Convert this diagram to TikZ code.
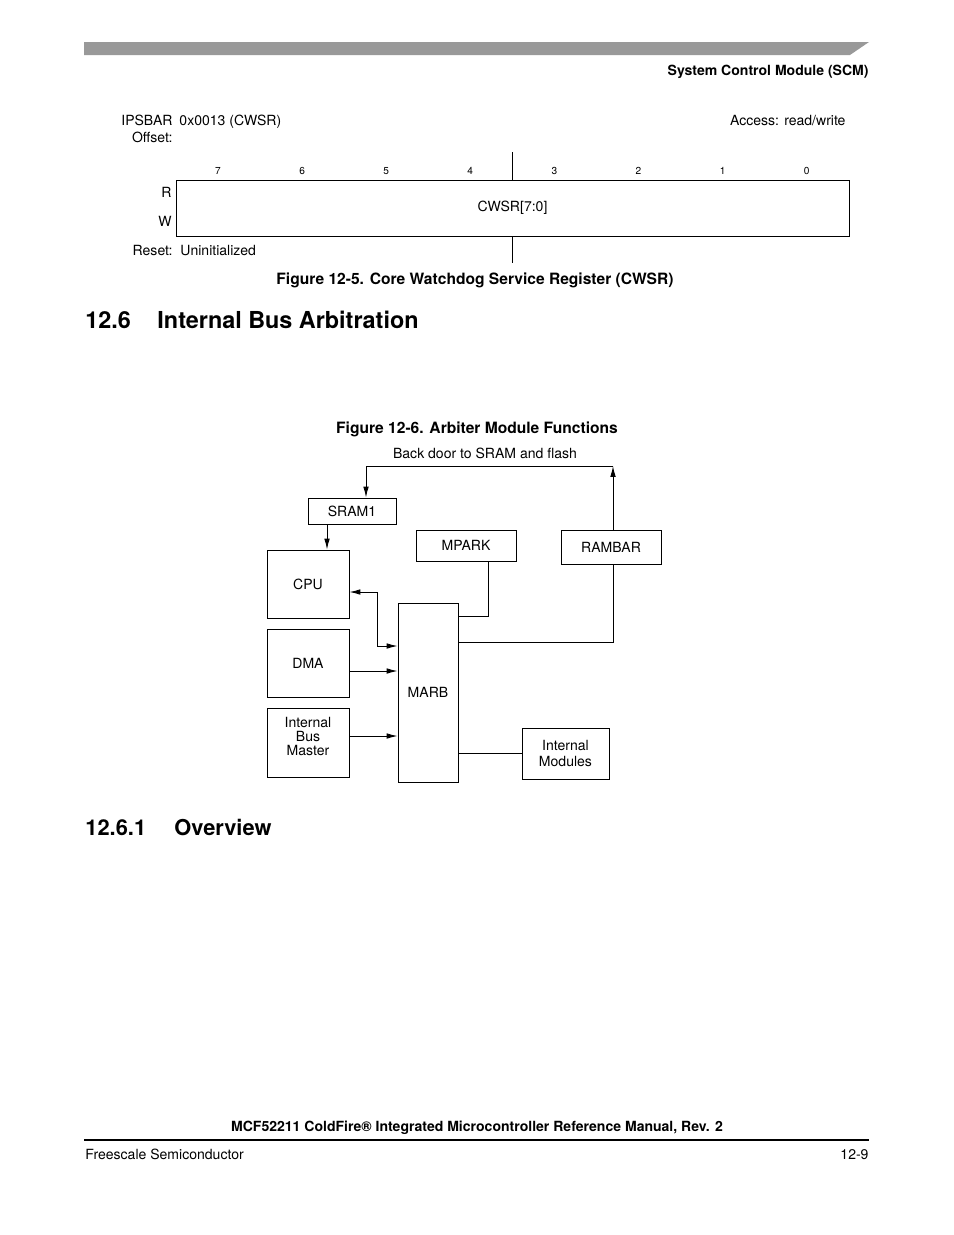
\documentclass[tikz,border=0pt]{standalone}
\usepackage{fontspec}
\setmainfont{TeX Gyre Heros}
\usetikzlibrary{arrows.meta}
\newcommand{\pxu}{0.6415pt}
\definecolor{bargray}{gray}{0.6}
\tikzset{
	box/.style={draw, line width=0.6pt, inner sep=0pt, align=center, font=\fontsize{9}{9}\selectfont},
	txt/.style={inner sep=0pt, font=\fontsize{9}{10.5}\selectfont},
	bold/.style={inner sep=0pt, font=\fontsize{10}{12}\selectfont\bfseries},
	head/.style={inner sep=0pt, font=\fontsize{15}{18}\selectfont\bfseries},
	subhead/.style={inner sep=0pt, font=\fontsize{14}{17}\selectfont\bfseries},
	bitnum/.style={inner sep=0pt, font=\fontsize{6.5}{8}\selectfont},
}
\begin{document}
\begin{tikzpicture}[x=\pxu, y=-\pxu, line width=0.6pt, >={Latex[length=7pt,width=3.6pt]}]
	\useasboundingbox (0,0) rectangle (954,1235);
	% page header
	\fill[bargray] (84,42) -- (869,42) -- (850,55) -- (84,55) -- cycle;
	\node[txt, anchor=base east, font=\fontsize{9}{10.5}\selectfont\bfseries] (chapter) at (869,75.5) {System Control Module (SCM)};
	
	% register
	\node[txt, anchor=base east] (ipsbar) at (173,125) {IPSBAR};
	\node[txt, anchor=base east] (offset) at (173,142) {Offset:};
	\node[txt, anchor=base west] (addr) at (179,125) {0x0013 (CWSR)};
	\node[txt, anchor=base east] (access) at (846,125) {Access: read/write};
	\node[box, minimum width=673*\pxu, minimum height=56*\pxu] (cwsr) at (512.5,208) {CWSR[7:0]};
	\foreach \b in {0,...,7}
		\node[bitnum, anchor=base] (bit\b) at ({218+84.1*(7-\b)},174) {\b};
	\draw (cwsr.north) -- ++(0,-28);
	\draw (cwsr.south) -- ++(0,27);
	\node[txt, anchor=base east] (rlbl) at (172,197) {R};
	\node[txt, anchor=base east] (wlbl) at (172,226) {W};
	\node[txt, anchor=base east] (resetlbl) at (173,255) {Reset:};
	\node[txt, anchor=base west] (resetval) at (180,255) {Uninitialized};
	\node[bold, anchor=base] (fig5) at (475,284) {Figure 12-5. Core Watchdog Service Register (CWSR)};
	
	\node[head, anchor=base west] (secnum) at (85,328.5) {12.6};
	\node[head, anchor=base west] (sectitle) at (157,328.5) {Internal Bus Arbitration};
	
	% arbiter
	\node[bold, anchor=base] (fig6) at (477,433) {Figure 12-6. Arbiter Module Functions};
	\node[txt, anchor=base] (backdoor) at (485,458) {Back door to SRAM and flash};
	\node[box, minimum width=88*\pxu, minimum height=26*\pxu] (sram1) at (352,511) {SRAM1};
	\node[box, minimum width=100*\pxu, minimum height=31*\pxu] (mpark) at (466,545.5) {MPARK};
	\node[box, minimum width=100*\pxu, minimum height=34*\pxu] (rambar) at (611,547) {RAMBAR};
	\node[box, minimum width=82*\pxu, minimum height=68*\pxu] (cpu) at (308,584) {CPU};
	\node[box, minimum width=82*\pxu, minimum height=68*\pxu] (dma) at (308,663) {DMA};
	\node[box, minimum width=82*\pxu, minimum height=69*\pxu, text depth=7.8pt] (ibm) at (308,742.5) {Internal\\Bus\\Master};
	\node[box, minimum width=60*\pxu, minimum height=179*\pxu] (marb) at (428,692.5) {MARB};
	\node[box, minimum width=87*\pxu, minimum height=51*\pxu, font=\fontsize{9}{10.3}\selectfont] (intmod) at (565.5,753.5) {Internal\\Modules};
	
	\coordinate (bd) at (613,466);
	\draw[->] (rambar.north -| bd) -- (bd);
	\draw[->] (bd) -| ([xshift=14*\pxu]sram1.north);
	\coordinate (cpuin) at ([xshift=19*\pxu]cpu.north);
	\draw[->] (cpuin |- sram1.south) -- (cpuin);
	\coordinate (cpujog) at (377,646);
	\draw[<->] ([yshift=-8*\pxu]cpu.east) -| (cpujog) -- (cpujog -| marb.west);
	\coordinate (dmaout) at ([yshift=-8*\pxu]dma.east);
	\draw[->] (dmaout) -- (dmaout -| marb.west);
	\coordinate (ibmout) at ([yshift=6.5*\pxu]ibm.east);
	\draw[->] (ibmout) -- (ibmout -| marb.west);
	\coordinate (mparkout) at ([xshift=22*\pxu]mpark.south);
	\draw (mparkout) |- ([yshift=76.5*\pxu]marb.east);
	\draw (rambar.south -| bd) |- ([yshift=50.5*\pxu]marb.east);
	\draw (intmod.west) -- (intmod.west -| marb.east);
	
	\node[subhead, anchor=base west] (subnum) at (85,835) {12.6.1};
	\node[subhead, anchor=base west] (subtitle) at (174,835) {Overview};
	
	% page footer
	\node[txt, anchor=base, font=\fontsize{9}{10.5}\selectfont\bfseries] (manual) at (477,1131) {MCF52211 ColdFire® Integrated Microcontroller Reference Manual, Rev. 2};
	\draw[line width=0.8pt] (84,1140) -- (869,1140);
	\node[txt, anchor=base west] (company) at (85,1159) {Freescale Semiconductor};
	\node[txt, anchor=base east] (pagenum) at (869,1159) {12-9};
\end{tikzpicture}
\end{document}
